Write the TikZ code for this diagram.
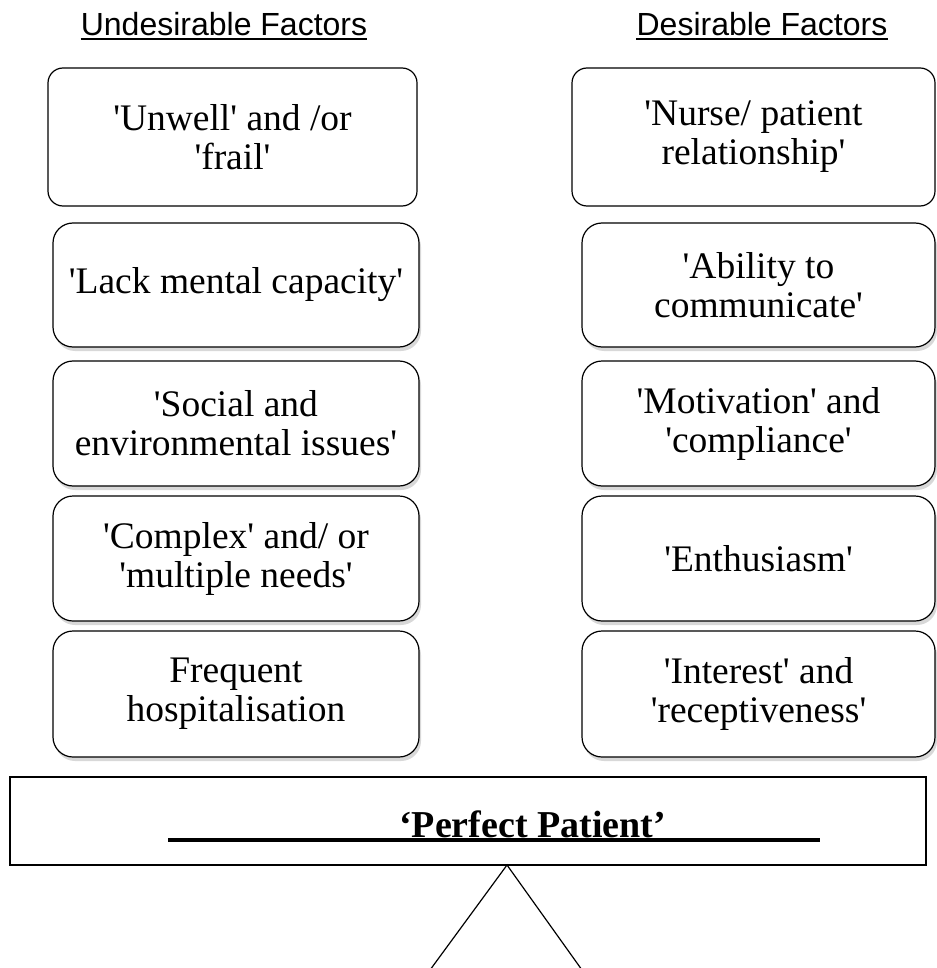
\documentclass[tikz,border=0pt]{standalone}
\usepackage{fontspec}
\setmainfont{Liberation Serif}[Ligatures=TeXOff]
\newfontfamily\headfont{Liberation Sans}
\usetikzlibrary{shadows}

\begin{document}
\begin{tikzpicture}[x=1pt,y=-1pt]
% Default actions for each node
\tikzstyle{every node}=[align=center, inner sep=0pt];
\tikzstyle{factor} = [draw, fill=white, line width=1.2pt, rounded corners=20pt, minimum height=125pt, font=\fontsize{37.5}{39}\selectfont]
\tikzstyle{shade} = [drop shadow={shadow xshift=2pt, shadow yshift=-4pt, fill=black!30, opacity=0.5}]
\tikzstyle{heading} = [font=\headfont\fontsize{32}{36}\selectfont, anchor=base]
\tikzstyle{rule} = [draw, line width=1.5pt]
\useasboundingbox (0,0) rectangle (936,968);
% Column headings
\node [heading] (uh) at (224,36) {Undesirable Factors};
\node [heading] (dh) at (762,36) {Desirable Factors};
\draw [rule] ([yshift=-3pt]uh.base west) -- ([yshift=-3pt]uh.base east);
\draw [rule] ([yshift=-3pt]dh.base west) -- ([yshift=-3pt]dh.base east);
% Undesirable factors
\node [factor, rounded corners=15pt, minimum width=369pt, minimum height=138pt] (u1) at (232.5,137) {'Unwell' and /or\\'frail'};
\node [factor, shade, minimum width=366pt, minimum height=124pt] (u2) at (236,285) {'Lack mental capacity'};
\node [factor, shade, minimum width=366pt] (u3) at (236,423.5) {'Social and\\environmental issues'};
\node [factor, shade, minimum width=366pt] (u4) at (236,558.5) {'Complex' and/ or\\'multiple needs'};
\node [factor, shade, minimum width=366pt, minimum height=126pt] (u5) at (236,694) {Frequent\\hospitalisation};
% Desirable factors
\node [factor, rounded corners=15pt, minimum width=363pt, minimum height=138pt] (d1) at (753.5,137) {'Nurse/ patient\\relationship'};
\node [factor, shade, minimum width=353pt, minimum height=124pt] (d2) at (758.5,285) {'Ability to\\communicate'};
\node [factor, shade, minimum width=353pt] (d3) at (758.5,423.5) {'Motivation' and\\'compliance'};
\node [factor, shade, minimum width=353pt] (d4) at (758.5,558.5) {'Enthusiasm'};
\node [factor, shade, minimum width=353pt, minimum height=126pt] (d5) at (758.5,694) {'Interest' and\\'receptiveness'};
% The balance beam and its pivot
\node [draw, line width=2pt, minimum width=916pt, minimum height=88pt] (pp) at (468,821) {};
\node [font=\bfseries\fontsize{38}{40}\selectfont, anchor=base west] (pplabel) at (399,837) {‘Perfect Patient’};
\draw [line width=3.5pt] (168,840) -- (820,840);
\coordinate (apex) at (507,865);
\coordinate (tl) at (430,970);
\coordinate (tr) at (582,970);
\draw [line width=1.2pt] (tl) -- (apex) -- (tr);
\end{tikzpicture}
\end{document}
